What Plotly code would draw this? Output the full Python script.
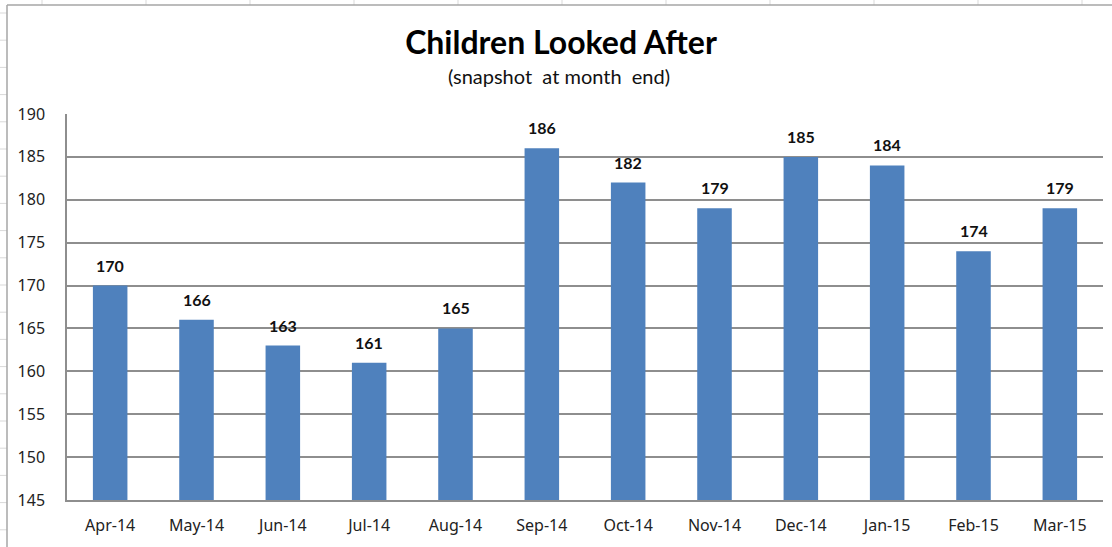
import plotly.graph_objects as go

# Month-end counts of children looked after
months = ["Apr-14", "May-14", "Jun-14", "Jul-14", "Aug-14", "Sep-14",
          "Oct-14", "Nov-14", "Dec-14", "Jan-15", "Feb-15", "Mar-15"]
children = [170, 166, 163, 161, 165, 186, 182, 179, 185, 184, 174, 179]
y_ticks = [145, 150, 155, 160, 165, 170, 175, 180, 185, 190]

W, H = 1112, 547
BAR = "#4F81BD"
GRID = "#8E8E8E"
CELL = "#D9D9D9"

fig = go.Figure()
fig.add_trace(go.Bar(
    x=months, y=children, marker=dict(color=BAR, line=dict(width=0)),
    hoverinfo="x+y", showlegend=False,
))

# value labels sitting above each bar
for m, v in zip(months, children):
    fig.add_annotation(
        x=m, y=v, text=f"<b>{v}</b>", showarrow=False,
        yanchor="bottom", yshift=9,
        font=dict(family="Lato, Arial", size=16, color="#111111"),
    )

shapes = []
# worksheet cell lines showing around the chart object
for k in range(20):
    yy = 13 + 27.2 * k
    shapes.append(dict(type="line", xref="paper", yref="paper",
                       x0=-67 / 1036, x1=-60 / 1036,
                       y0=1 - (yy - 114) / 386, y1=1 - (yy - 114) / 386,
                       line=dict(color=CELL, width=1)))
for k in range(11):
    xx = 42 + 104 * k
    shapes.append(dict(type="line", xref="paper", yref="paper",
                       x0=(xx - 67) / 1036, x1=(xx - 67) / 1036,
                       y0=1 + 109 / 386, y1=1 + 114 / 386,
                       line=dict(color=CELL, width=1)))
# chart object border (top and left edges)
shapes.append(dict(type="line", xref="paper", yref="paper",
                   x0=-60 / 1036, x1=1 + 9 / 1036,
                   y0=1 + 109 / 386, y1=1 + 109 / 386,
                   line=dict(color="#A6A6A6", width=1.5)))
shapes.append(dict(type="line", xref="paper", yref="paper",
                   x0=-60 / 1036, x1=-60 / 1036,
                   y0=1 + 109 / 386, y1=-47 / 386,
                   line=dict(color="#A6A6A6", width=1.5)))

fig.update_layout(
    width=W, height=H,
    margin=dict(l=67, r=9, t=114, b=47),
    paper_bgcolor="white", plot_bgcolor="white",
    bargap=0.6,
    shapes=shapes,
    title=dict(
        text="<b>Children Looked After</b>",
        x=(561 - 67) / 1036, xref="paper", xanchor="center",
        y=1 - 43 / H, yref="container", yanchor="middle",
        font=dict(family="Lato, Arial", size=32, color="#000000"),
    ),
    xaxis=dict(
        showgrid=False, showline=True, linecolor=GRID, linewidth=1.5,
        ticks="", ticklabelstandoff=10,
        tickfont=dict(family="Noto Sans, Arial", size=16, color="#222222"),
        fixedrange=True,
    ),
    yaxis=dict(
        range=[145, 190], tickvals=y_ticks,
        showgrid=True, gridcolor=GRID, gridwidth=1.5,
        showline=True, linecolor=GRID, linewidth=1.5,
        zeroline=False, ticks="", ticklabelstandoff=17,
        tickfont=dict(family="Noto Sans, Arial", size=16, color="#222222"),
        fixedrange=True,
    ),
)

fig.add_annotation(
    text="(snapshot\u00a0 at month\u00a0 end)", showarrow=False,
    xref="paper", yref="paper", x=(559 - 67) / 1036, y=1 + (114 - 76) / 386,
    xanchor="center", yanchor="middle",
    font=dict(family="Lato, Arial", size=20, color="#111111"),
)

fig.write_html("out.html")
